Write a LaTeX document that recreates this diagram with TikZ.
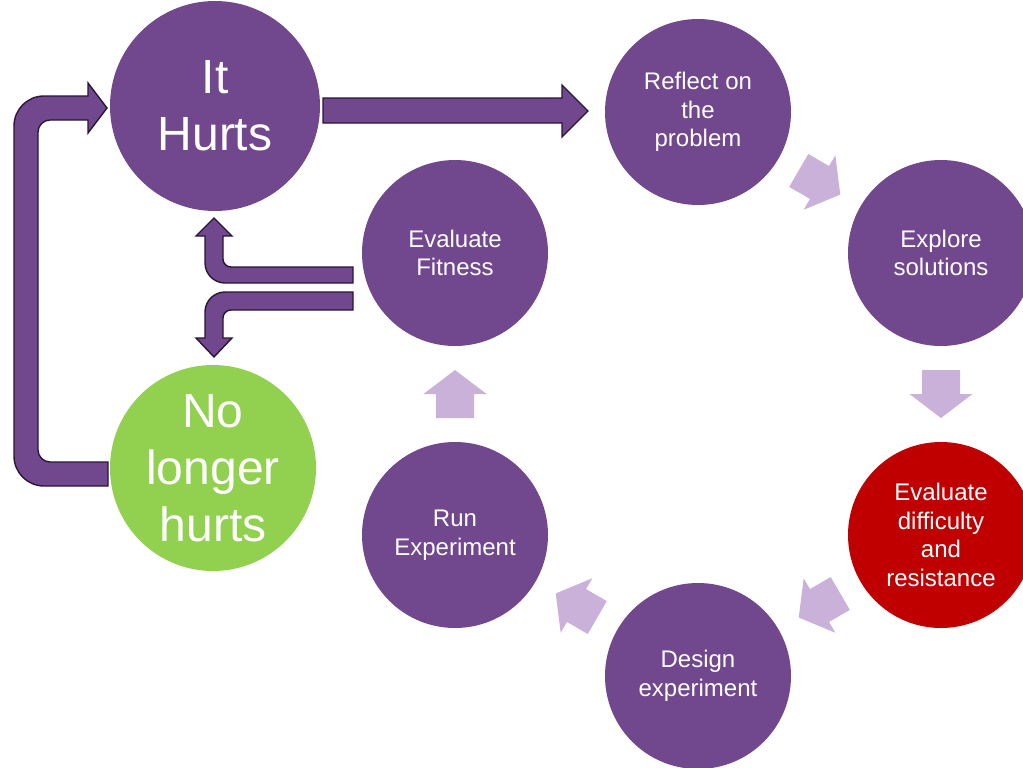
\documentclass[tikz,border=0pt]{standalone}
\usepackage{fontspec}
\setmainfont{Liberation Sans}
\usetikzlibrary{calc}
\definecolor{purp}{HTML}{71478E}
\definecolor{grn}{HTML}{92D050}
\definecolor{rd}{HTML}{C00000}
\definecolor{lilac}{HTML}{C9B1D9}
\definecolor{edgecol}{HTML}{2A1638}
\begin{document}
\begin{tikzpicture}[x=1pt,y=-1pt,
  circ/.style={circle, inner sep=0pt, minimum size=186pt, fill=purp, text=white, align=center, font=\fontsize{24}{28.5}\selectfont},
  bigcirc/.style={circ, minimum size=210pt, font=\fontsize{48}{57}\selectfont},
  blockarrow/.style={fill=purp, draw=edgecol, line width=1.4pt, line join=miter},
  chevfill/.style={fill=lilac},
  pics/chev/.style={code={\fill[chevfill] (-24,-19) -- (0,-19) -- (0,-31.5) -- (24,0) -- (0,31.5) -- (0,19) -- (-24,19) -- cycle;}}]
\useasboundingbox (0,0) rectangle (1023,768);

% circles
\node[bigcirc] (hurts) at (215,106) {It\\Hurts};
\node[bigcirc, minimum size=206pt, fill=grn] (nolonger) at (213,468) {No\\longer\\hurts};
\node[circ] (reflect) at (698,112) {Reflect on\\the\\problem};
\node[circ] (explore) at (941,253) {Explore\\solutions};
\node[circ, fill=rd] (difficulty) at (941,535) {Evaluate\\difficulty\\and\\resistance};
\node[circ] (design) at (698,676) {Design\\experiment};
\node[circ] (run) at (455,535) {Run\\Experiment};
\node[circ] (fitness) at (455,253) {Evaluate\\Fitness};

% light chevrons around the cycle
\foreach \a/\b in {reflect/explore, explore/difficulty, difficulty/design, design/run, run/fitness}{
  \path let \p1=($(\b)-(\a)$), \n1={atan2(\y1,\x1)} in ($(\a)!0.5!(\b)$) pic[rotate=\n1] {chev};
}

% main arrow: It Hurts -> Reflect
\draw[blockarrow] (323,98) -- (562,98) -- (562,85) -- (588,111) -- (562,137) -- (562,123) -- (323,123) -- cycle;

% loop arrow: No longer hurts -> It Hurts
\draw[blockarrow] (108,486) -- (44,486) .. controls (27.4,486) and (14,472.6) .. (14,456)
  -- (14,126) .. controls (14,109.4) and (27.4,96) .. (44,96)
  -- (88,96) -- (88,83) -- (107,108) -- (88,133) -- (88,120)
  -- (50,120) .. controls (43.4,120) and (38,125.4) .. (38,132)
  -- (38,450) .. controls (38,456.6) and (43.4,462) .. (50,462)
  -- (108,462) -- cycle;

% split arrows from Evaluate Fitness
\draw[blockarrow] (353,267) -- (231,267) .. controls (226.6,267) and (223,263.4) .. (223,259)
  -- (223,236) -- (232,236) -- (214,218) -- (196,236) -- (205,236)
  -- (205,263) .. controls (205,274) and (214,283) .. (225,283) -- (353,283) -- cycle;
\draw[blockarrow] (353,292) -- (225,292) .. controls (214,292) and (205,301) .. (205,312)
  -- (205,338) -- (196,338) -- (214,357) -- (232,338) -- (223,338)
  -- (223,318) .. controls (223,313.6) and (226.6,310) .. (231,310) -- (353,310) -- cycle;
\end{tikzpicture}
\end{document}
